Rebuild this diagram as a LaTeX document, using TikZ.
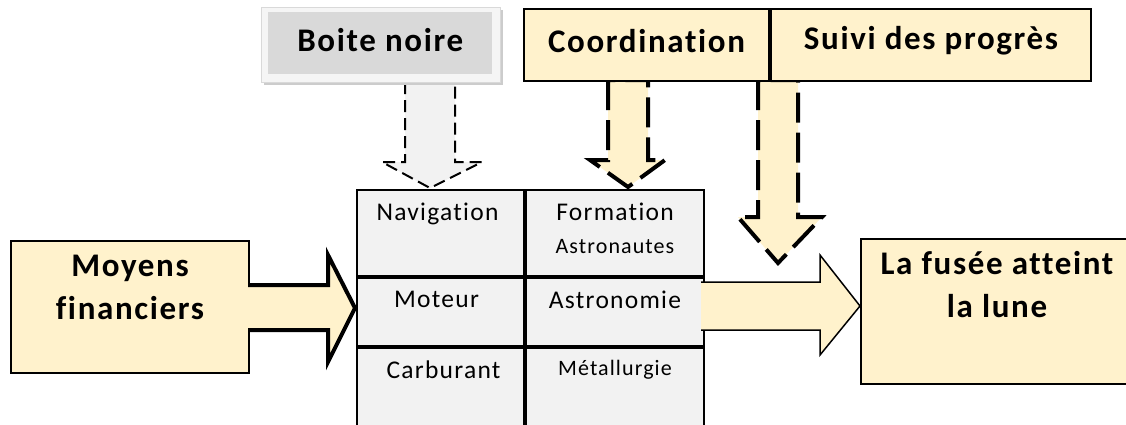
\documentclass[tikz,border=0pt]{standalone}
\usepackage{fontspec}
\setmainfont{Carlito}[LetterSpace=5, Ligatures={NoCommon}]
\usetikzlibrary{positioning}
\definecolor{beige}{HTML}{FFF2CC}
\definecolor{cellgray}{HTML}{F2F2F2}
\definecolor{boxgray}{HTML}{D9D9D9}
\tikzset{
  beigebox/.style={draw=black, line width=2pt, fill=beige, inner sep=0pt, anchor=north west},
  cellbox/.style={draw=black, line width=2pt, fill=cellgray, inner sep=0pt, anchor=north west},
  bigtxt/.style={font=\fontsize{33}{43}\selectfont\bfseries, align=center, inner sep=0pt},
  celltxt/.style={font=\fontsize{25.5}{28}\selectfont, inner sep=0pt},
  smalltxt/.style={font=\fontsize{22}{24}\selectfont, inner sep=0pt},
  greyarrow/.style={draw=black, line width=2pt, dash pattern=on 12pt off 6pt, fill=cellgray},
  dasharrow/.style={draw=black, line width=4pt, dash pattern=on 30pt off 10pt, fill=beige},
  inarrow/.style={draw=black, line width=4pt, fill=beige, line join=miter},
  outarrow/.style={draw=black, line width=1.5pt, fill=beige, line join=miter},
}
\begin{document}
\begin{tikzpicture}[x=1pt, y=-1pt]
  \useasboundingbox (0,0) rectangle (1126,424);
  \clip (0,0) rectangle (1126,424);

  % arrows coming down from the top boxes
  \draw[greyarrow] (405,82) -- (405,162) -- (382,162) -- (430,188) -- (482,162) -- (455,162) -- (455,82);
  \draw[dasharrow] (608,80) -- (608,160) -- (590,160) -- (628,187) -- (665,160) -- (648,160) -- (648,80) -- cycle;
  \draw[dasharrow] (758,80) -- (758,217) -- (738,217) -- (778,263) -- (822,217) -- (798,217) -- (798,80) -- cycle;

  % top boxes
  \fill[gray!40] (264,10) rectangle (503,85);
  \node[anchor=north west, inner sep=0pt, minimum width=239, minimum height=75, fill=gray!8, draw=gray!30, line width=1pt] (boiteout) at (261,7) {};
  \node[anchor=north west, inner sep=0pt, minimum width=224, minimum height=62, fill=boxgray] (boite) at (268,12) {};
  \node[bigtxt] (boitetxt) at ([yshift=3pt]boite.center) {Boite noire};
  \node[beigebox, minimum width=245, minimum height=72] (coord) at (523,8) {};
  \node[beigebox, minimum width=320, minimum height=72] (suivi) at (coord.north east) {};
  \node[bigtxt] (coordtxt) at ([yshift=4pt]coord.center) {Coordination};
  \node[bigtxt] (suivitxt) at ([yshift=4pt]suivi.center) {Suivi des progrès};

  % black box
  \node[cellbox, minimum width=167, minimum height=86] (c11) at (356,189) {};
  \node[cellbox, minimum width=178, minimum height=86] (c12) at (c11.north east) {};
  \node[cellbox, minimum width=167, minimum height=68] (c21) at (c11.south west) {};
  \node[cellbox, minimum width=178, minimum height=68] (c22) at (c21.north east) {};
  \node[cellbox, minimum width=167, minimum height=110] (c31) at (c21.south west) {};
  \node[cellbox, minimum width=178, minimum height=110] (c32) at (c31.north east) {};
  \node[celltxt, below=14pt of c11.north, xshift=-3pt] (nav) {Navigation};
  \node[celltxt, below=14pt of c12.north] (form) {Formation};
  \node[smalltxt, below=18pt of form.south] (astro) {Astronautes};
  \node[celltxt, below=14pt of c21.north, xshift=-4pt] (mot) {Moteur};
  \node[celltxt, below=14pt of c22.north] (astron) {Astronomie};
  \node[celltxt, below=14pt of c31.north, xshift=3pt] (carb) {Carburant};
  \node[smalltxt, below=13pt of c32.north] (metal) {Métallurgie};

  % input and output
  \node[beigebox, minimum width=238, minimum height=132] (moyens) at (10,240) {};
  \node[bigtxt, below=15pt of moyens.north] (moyenstxt) {Moyens\\financiers};
  \draw[inarrow] (248,285) -- (328,285) -- (328,255) -- (355,308) -- (328,362) -- (328,330) -- (248,330);
  \node[beigebox, minimum width=300, minimum height=145] (fusee) at (860,238) {};
  \node[bigtxt, below=13pt of fusee.north, xshift=-14pt] (fuseetxt) {La fusée atteint\\la lune};
  \draw[outarrow] (701,282) -- (820,282) -- (820,255) -- (860,306) -- (820,355) -- (820,330) -- (701,330);
\end{tikzpicture}
\end{document}
